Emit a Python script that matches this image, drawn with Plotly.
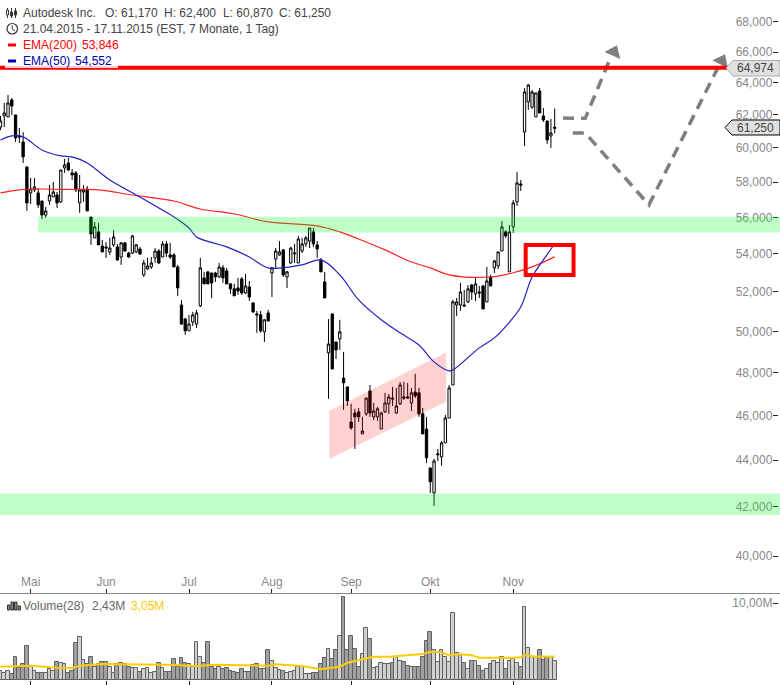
import plotly.graph_objects as go

# ---------- data ----------
open_ = [61265,61940,61880,62930,62000,60720,60360,58880,57380,57550,
         57380,56920,56130,56920,57150,57260,56870,58820,59110,58530,
         58530,56810,57430,57600,56020,54870,55200,54430,54380,54110,
         54490,54380,53840,54600,54050,54050,54110,54270,52890,53200,
         53310,53790,54160,53840,54540,53950,53950,53310,51330,50620,
         50030,50470,50370,51290,52730,53050,52990,52990,52780,53260,
         53100,52420,52160,52210,52680,51950,52260,51430,50880,50830,
         49980,50930,52990,53730,53950,54220,52780,53520,54000,53520,
         54160,54540,54700,55200,54490,53680,52520,48950,50880,49480,
         49630,47740,47320,45700,46110,46160,45160,46070,47130,45930,
         45930,45380,46160,46530,46800,46110,46530,46850,46850,46570,
         47080,47040,46070,45380,43660,42590,44230,44140,44760,45880,
         47410,51330,51330,51330,51490,52360,51900,52000,52310,51490,
         52780,53260,53360,54160,55200,53050,55470,56870,57890,60960,
         62810,62490,61880,63490,61940,61630,60720,61170]
close = [61630,62120,62740,62555,60600,60660,59470,56810,57600,57720,
         56700,56130,56360,57260,57430,56810,58700,59000,58700,58410,
         57550,57550,57550,56360,55090,55470,54490,54110,54320,54320,
         54920,53680,54600,54160,53840,54980,54490,54000,53520,53360,
         53520,54160,53520,54540,54050,53840,53310,52210,50370,50030,
         50370,50830,50930,53260,52420,52420,52470,52780,53310,52730,
         52420,52160,51800,52050,51950,52310,51740,50980,50830,50030,
         50580,50520,53260,54160,54110,52890,53050,54320,54050,54810,
         54540,54870,55410,54540,54270,53050,51690,49380,48170,49090,
         49980,47510,46670,45430,45930,45930,45290,46800,46110,46200,
         46300,46110,46570,46850,46760,46430,47410,46800,46800,47040,
         46900,46070,45160,44100,43060,43960,44270,44760,45880,47270,
         51490,51490,52000,51280,52160,52000,52420,51950,51130,52570,
         52310,53630,54110,55470,54980,55200,56810,57950,57830,63430,
         63870,63430,63370,62120,61690,60480,60900,61250]
high = [61940,62740,63240,63055,62000,61200,60960,58880,58240,58240,
        57660,56920,56580,57830,58000,57430,58700,59350,59410,58760,
        58640,58410,57830,57770,56020,55750,55690,54760,54650,54870,
        55300,54540,54650,54650,54110,55030,54540,54380,53680,53790,
        53840,54320,54270,54700,54700,54600,54050,53420,51590,50680,
        50830,50980,51080,53790,53050,53050,52990,53050,53520,53420,
        53260,52420,52420,52730,52780,52940,52570,51490,51030,51030,
        50620,51080,53310,54320,54700,54270,53100,54380,54540,54980,
        54870,54980,55410,55410,54700,53790,53050,50620,50880,49480,
        50580,48990,47320,46530,46300,46340,45930,46800,47410,46570,
        46390,46160,47040,46990,47320,47270,47550,47550,47500,47270,
        47940,47270,46340,45930,43660,44050,44490,44850,46020,47410,
        51590,51690,52470,52100,52360,52420,52730,52310,52360,53310,
        52890,53680,54110,55800,55300,55580,56980,58590,58120,63680,
        63940,63560,63370,63680,62430,61630,61750,62400]
low = [61080,61265,61880,62000,60360,60300,59110,56360,56750,57430,
       56530,55910,55970,56700,57150,56530,56810,58530,58640,58120,
       57430,56250,56870,56360,54490,54870,54490,54110,53790,53950,
       54380,53630,53420,54110,53790,54000,54050,53950,52780,53150,
       53200,53520,53470,53840,53840,53730,53310,51800,50320,49830,
       50030,50270,50170,51230,52420,52420,51690,52520,52730,52470,
       52420,51900,51800,51850,51850,51900,51540,50930,49930,49930,
       49480,50520,51740,53200,53900,52780,52210,53470,53520,53520,
       54050,54380,54320,54380,53790,53050,51690,46760,48170,48650,
       49090,46250,46430,45340,44490,45700,45160,45980,45930,45790,
       45750,45380,46110,46070,46430,46070,46480,46710,46760,46200,
       46800,45930,45160,43880,42590,42040,43960,43750,44760,45880,
       47410,50770,51030,51230,51430,51590,51540,51690,51130,51490,
       52310,52990,53200,54160,54870,53050,55140,56640,57490,60120,
       62310,62370,61880,62120,61570,60240,60000,60870]
volume = [1.17,.95,1.17,.78,3.03,1.52,2.03,4.46,1.73,1.21,
          .95,.95,.95,1.39,1.17,2.38,2.25,2.03,.95,1.17,
          4.76,5.63,2.60,2.03,2.94,1.65,2.03,2.29,2.29,1.73,
          .95,2.03,2.16,2.03,1.73,1.52,1.52,1.08,1.39,1.52,
          .87,1.08,2.16,1.52,1.08,1.08,2.68,1.73,2.81,2.16,
          2.08,1.73,4.89,2.94,2.25,4.89,1.73,1.39,1.73,1.43,
          1.52,1.17,1.08,.87,1.39,1.08,1.08,1.95,2.03,1.43,
          1.39,3.90,2.47,1.52,1.30,1.17,.87,1.08,1.17,1.73,
          1.65,.74,.74,.87,.95,2.03,2.81,3.98,2.68,3.90,
          5.71,10.74,3.90,5.76,3.98,1.73,3.33,6.71,5.28,1.52,
          1.73,2.16,2.03,2.03,2.16,2.94,2.51,2.38,1.86,1.73,
          1.73,1.73,3.03,5.11,6.28,3.90,2.38,3.90,3.03,2.38,
          8.66,3.55,3.25,2.16,1.39,2.51,2.42,1.86,1.21,1.47,
          2.03,2.42,2.25,3.03,1.47,2.42,2.68,2.25,1.65,9.44,
          4.11,3.03,2.94,3.90,2.60,2.94,2.94,2.43]
bar_index = list(range(len(close)))

ema200_idx = [0,5,10,18,26,35,46,53,62,71,84,90,95,102,109,114,119,130,136,141,147]
ema200_val = [57380,57550,57600,57575,57550,57260,56920,56470,56190,55750,55530,
              55200,54810,54220,53570,53260,52890,52780,53000,53310,53846]
ema50_idx = [0,3,6,11,16,19,23,29,37,42,46,50,52,60,66,71,80,85,90,95,101,106,111,115,119,120,127,131,135,138,141,144,147]
ema50_val = [60480,60720,60660,59880,59530,59470,59110,58120,57150,56530,56020,55410,
             54920,54380,53840,53260,53420,53680,52890,51590,50580,49930,49330,48510,
             48080,48120,49190,49680,50470,51230,52780,53680,54552]
volema_idx = [0,8,15,19,21,27,44,52,57,71,73,80,85,90,92,99,103,112,114,117,119,121,125,127,136,138,139,142,147]
volema_val = [1.73,1.86,1.60,1.56,1.86,2.08,1.99,1.82,1.99,1.86,2.03,1.82,1.39,1.73,2.25,
              3.03,3.03,3.38,3.68,3.59,3.20,3.38,3.20,2.90,2.90,2.94,3.25,3.03,3.05]

price_ticks = list(range(40000, 70000, 2000))
price_labels = [f"{v:,}" for v in price_ticks]
month_ticks = [8, 28, 50, 72, 93, 114, 136]
month_labels = ["Mai", "Jun", "Jul", "Aug", "Sep", "Okt", "Nov"]

resistance = 64974
upper_band = (55160, 56030)
lower_band = (41650, 42560)
channel_idx = [87.2, 118.2, 118.2, 87.2, 87.2]
channel_val = [46216, 48960, 46630, 44050, 46216]
box_idx = (139.3, 152.0)
box_val = (52890, 54490)
path_up_idx = [149.2, 155.1, 161.6]
path_up_val = [61815, 61790, 65500]
path_dn_idx = [151.8, 155.1, 172.0, 190.6]
path_dn_val = [60900, 60900, 56700, 65130]
head_idx = [162.7, 191.3]
head_val = [66000, 65420]

W, H = 780, 685
fx = lambda p: p / W
fy = lambda p: 1 - p / H
FONT = "Liberation Sans"

fig = go.Figure()
fig.add_trace(go.Bar(x=bar_index, y=volume, xaxis="x2", yaxis="y2", width=1,
                     marker=dict(color=["#d0d0d0" if c >= o else "#a0a0a0" for o, c in zip(open_, close)],
                                 line=dict(color="#606060", width=1)), hoverinfo="skip"))
fig.add_trace(go.Scatter(x=volema_idx, y=volema_val, xaxis="x2", yaxis="y2", mode="lines",
                         line=dict(color="#ffcc00", width=2), hoverinfo="skip"))
fig.add_trace(go.Candlestick(x=bar_index, open=open_, high=high, low=low, close=close,
                             xaxis="x", yaxis="y", whiskerwidth=0,
                             increasing=dict(line=dict(color="#000000", width=1), fillcolor="#ffffff"),
                             decreasing=dict(line=dict(color="#000000", width=1), fillcolor="#000000"),
                             hoverinfo="skip"))
fig.add_trace(go.Scatter(x=channel_idx, y=channel_val, mode="lines", fill="toself",
                         fillcolor="rgba(255,0,0,0.18)", line=dict(width=0), hoverinfo="skip"))
fig.add_trace(go.Scatter(x=ema200_idx, y=ema200_val, mode="lines",
                         line=dict(color="#ff2020", width=1.2, shape="spline"), hoverinfo="skip"))
fig.add_trace(go.Scatter(x=ema50_idx, y=ema50_val, mode="lines",
                         line=dict(color="#2020c0", width=1.2, shape="spline"), hoverinfo="skip"))
for xs, ys in ((path_up_idx, path_up_val), (path_dn_idx, path_dn_val)):
    fig.add_trace(go.Scatter(x=xs, y=ys, mode="lines", hoverinfo="skip",
                             line=dict(color="#7f7f7f", width=3.5, dash="11px,7px")))
fig.add_trace(go.Scatter(x=head_idx, y=head_val, mode="markers", hoverinfo="skip",
                         marker=dict(symbol="triangle-up", size=15, color="#7f7f7f", angle=[24, 27])))

shapes = []
# green zones, drawn over the candles
shapes.append(dict(type="rect", xref="x", yref="y", x0=10, x1=207, y0=upper_band[0], y1=upper_band[1],
                   fillcolor="rgba(0,255,30,0.25)", line_width=0, layer="above"))
shapes.append(dict(type="rect", xref="paper", yref="y", x0=0, x1=1, y0=lower_band[0], y1=lower_band[1],
                   fillcolor="rgba(0,255,30,0.25)", line_width=0, layer="above"))
shapes.append(dict(type="line", xref="paper", yref="y", x0=0, x1=1, y0=resistance, y1=resistance,
                   line=dict(color="#ff0000", width=4), layer="above"))
shapes.append(dict(type="rect", xref="x", yref="y", x0=box_idx[0], x1=box_idx[1], y0=box_val[0], y1=box_val[1],
                   line=dict(color="#ff0000", width=4), layer="above"))
# white panel behind the last legend row
shapes.append(dict(type="rect", xref="paper", yref="paper", x0=fx(5), x1=fx(118), y0=fy(68), y1=fy(54),
                   fillcolor="rgba(255,255,255,0.82)", line_width=0, layer="above"))


def path(points):
    return "M " + " L ".join(f"{fx(a):.5f},{fy(b):.5f}" for a, b in points) + " Z"


def px_line(x0, y0, x1, y1, color, width):
    return dict(type="line", xref="paper", yref="paper", x0=fx(x0), x1=fx(x1), y0=fy(y0), y1=fy(y1),
                line=dict(color=color, width=width), layer="above")


def px_rect(x0, y0, x1, y1, fill, line_color=None):
    return dict(type="rect", xref="paper", yref="paper", x0=fx(x0), x1=fx(x1), y0=fy(y1), y1=fy(y0),
                fillcolor=fill, line=dict(color=line_color or fill, width=1), layer="above")


# price tags
shapes.append(dict(type="path", xref="paper", yref="paper", layer="above",
                   path=path([(726, 68), (733, 60.5), (780, 60.5), (780, 76), (733, 76)]),
                   fillcolor="#e0e0e0", line=dict(color="#aaaaaa", width=1)))
shapes.append(dict(type="path", xref="paper", yref="paper", layer="above",
                   path=path([(725, 127.5), (732, 120), (780, 120), (780, 135), (732, 135)]),
                   fillcolor="#e0e0e0", line=dict(color="#000000", width=1)))
# header icons: candles
for cx, t, b, wt, wb in ((7.5, 10, 15, 8, 18), (11.5, 12, 16, 8, 18), (15.5, 11, 15, 8, 18)):
    shapes.append(px_line(cx, wt, cx, wb, "#333333", 1))
    shapes.append(px_rect(cx - 1, t, cx + 1, b, "#ffffff" if cx == 7.5 else "#333333", "#333333"))
# clock
shapes.append(dict(type="circle", xref="paper", yref="paper", x0=fx(7), x1=fx(17.5), y0=fy(34), y1=fy(23.5),
                   line=dict(color="#333333", width=1.2), layer="above"))
shapes.append(px_line(12.2, 25.5, 12.2, 29, "#333333", 1))
shapes.append(px_line(12.2, 29, 15, 31, "#333333", 1))
# legend swatches
shapes.append(px_line(8, 45, 16, 45, "#ff0000", 3))
shapes.append(px_line(8, 61, 16, 61, "#0000aa", 3))
# volume icon
for x0, top in ((7.5, 605), (11, 602), (14.5, 602), (18, 606)):
    shapes.append(px_rect(x0, top, x0 + 2.5, 610, "#888888", "#333333"))

annos = []


def text(x, y, s, color="#444444", anchor="left", size=12):
    annos.append(dict(xref="paper", yref="paper", x=fx(x), y=fy(y), text=s, showarrow=False,
                      xanchor=anchor, yanchor="middle", font=dict(family=FONT, size=size, color=color),
                      borderpad=0, borderwidth=0))


text(23, 13, "Autodesk Inc.")
text(105, 13, "O: 61,170")
text(164, 13, "H: 62,400")
text(223, 13, "L: 60,870")
text(279, 13, "C: 61,250")
text(23, 29, "21.04.2015 - 17.11.2015 (EST, 7 Monate, 1 Tag)")
text(23, 45, "EMA(200)", "#ff0000")
text(82, 45, "53,846", "#ff0000")
text(23, 61, "EMA(50)", "#0000aa")
text(75, 61, "54,552", "#0000aa")
text(23, 605.5, "Volume(28)", "#666666")
text(92, 605.5, "2,43M", "#666666")
text(131, 605.5, "3,05M", "#ffcc00")
text(774, 68.5, "64,974", "#444444", "right")
text(774, 128, "61,250", "#444444", "right")

tick_font = dict(family=FONT, size=12, color="#888888")
x_range = [-0.13, 206.76]
fig.update_layout(
    width=W, height=H, autosize=False, margin=dict(l=0, r=0, t=0, b=0, pad=0),
    paper_bgcolor="#ffffff", plot_bgcolor="#ffffff", showlegend=False, bargap=0, boxgap=0.12,
    hovermode=False, shapes=shapes, annotations=annos,
    xaxis=dict(domain=[0, 1], anchor="y", range=x_range, rangeslider=dict(visible=False),
               tickmode="array", tickvals=month_ticks, ticktext=month_labels,
               ticks="inside", ticklen=4, tickcolor="#222222", ticklabelposition="inside",
               tickfont=tick_font, showgrid=False, zeroline=False, showline=True,
               linecolor="#888888", linewidth=1),
    yaxis=dict(domain=[92 / H, 1], type="log", range=[4.58610, 4.84199], side="right", anchor="free", position=778 / W,
               tickmode="array", tickvals=price_ticks, ticktext=price_labels,
               ticks="inside", ticklen=5, tickcolor="#222222", ticklabelposition="inside",
               tickfont=tick_font, showgrid=False, zeroline=False, showline=False),
    xaxis2=dict(domain=[0, 1], anchor="y2", range=x_range, tickmode="array", tickvals=month_ticks,
                ticktext=[""] * len(month_ticks), ticks="outside", ticklen=4, tickcolor="#222222",
                showticklabels=False, showgrid=False, zeroline=False, showline=False),
    yaxis2=dict(domain=[5 / H, 92 / H], range=[0, 11.3], side="right", anchor="free", position=778 / W,
                tickmode="array", tickvals=[0, 10], ticktext=["0", "10,00M"],
                ticks="inside", ticklen=5, tickcolor="#222222", ticklabelposition="inside",
                tickfont=tick_font, showgrid=False, zeroline=False, showline=False),
)
fig.write_html("out.html", config={"displayModeBar": False},
               post_script="document.body.style.margin='0';document.body.style.overflow='hidden';")
